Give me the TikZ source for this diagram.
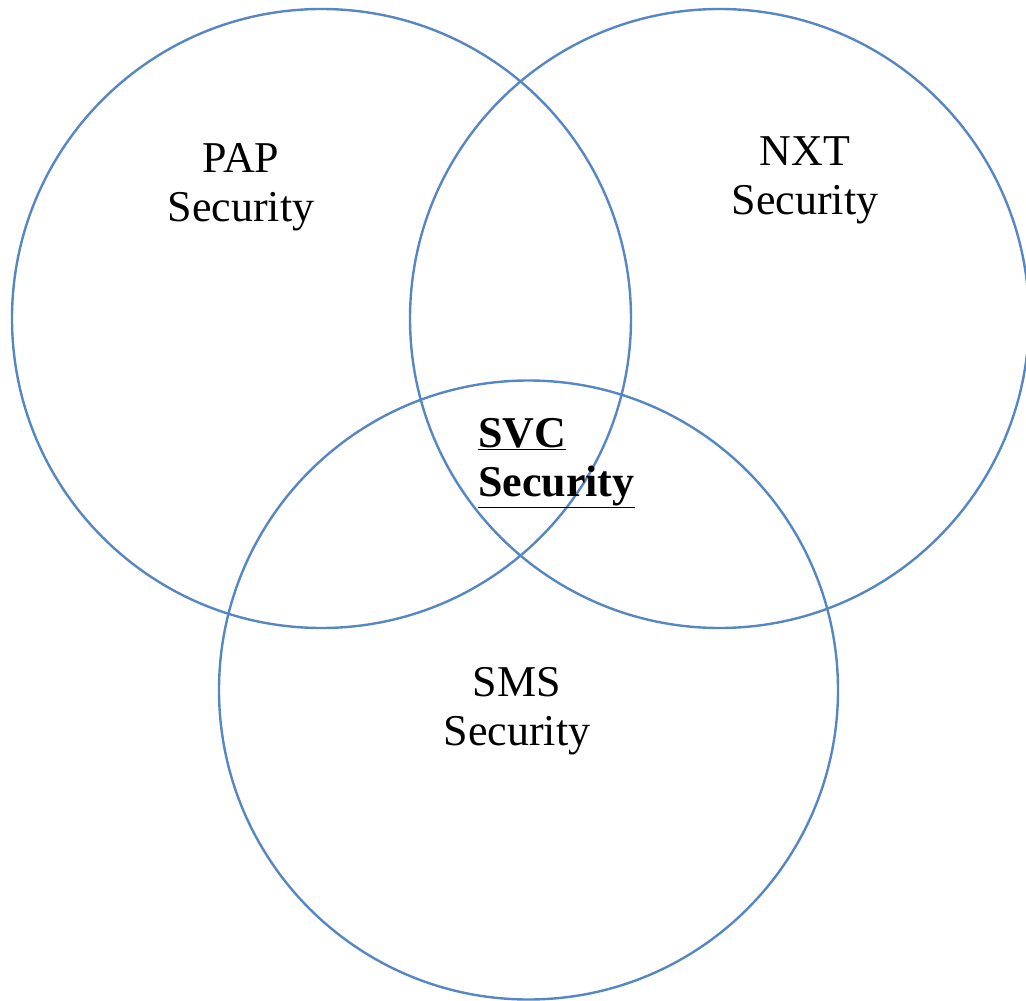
\documentclass[tikz,border=0pt]{standalone}
\usepackage{fontspec}
\setmainfont{Liberation Serif}
\definecolor{setblue}{HTML}{5687C4}
\tikzset{
  setline/.style={setblue,line width=2.4pt},
  setlabel/.style={inner sep=0pt,align=center,font=\fontsize{44}{49}\selectfont},
}

\begin{document}
\begin{tikzpicture}[x=1pt,y=-1pt]
\useasboundingbox (0,0) rectangle (1026,1001);
\coordinate (P) at (321.5,318.5);
\coordinate (N) at (719.5,318.5);
\coordinate (S) at (528.5,690);
\draw[setline] (P) circle [radius=309.5];
\draw[setline] (N) circle [radius=309.5];
\draw[setline] (S) circle [radius=309.5];
\node[setlabel] (pap) at (241,187) {PAP\\Security};
\node[setlabel] (nxt) at (805,180) {NXT\\Security};
\node[setlabel] (sms) at (517,711) {SMS\\Security};
\node[setlabel,align=left,anchor=west,font=\fontsize{44}{49}\selectfont\bfseries] (svc) at (478,463) {\underline{SVC}\\\underline{Security}};
\end{tikzpicture}
\end{document}
